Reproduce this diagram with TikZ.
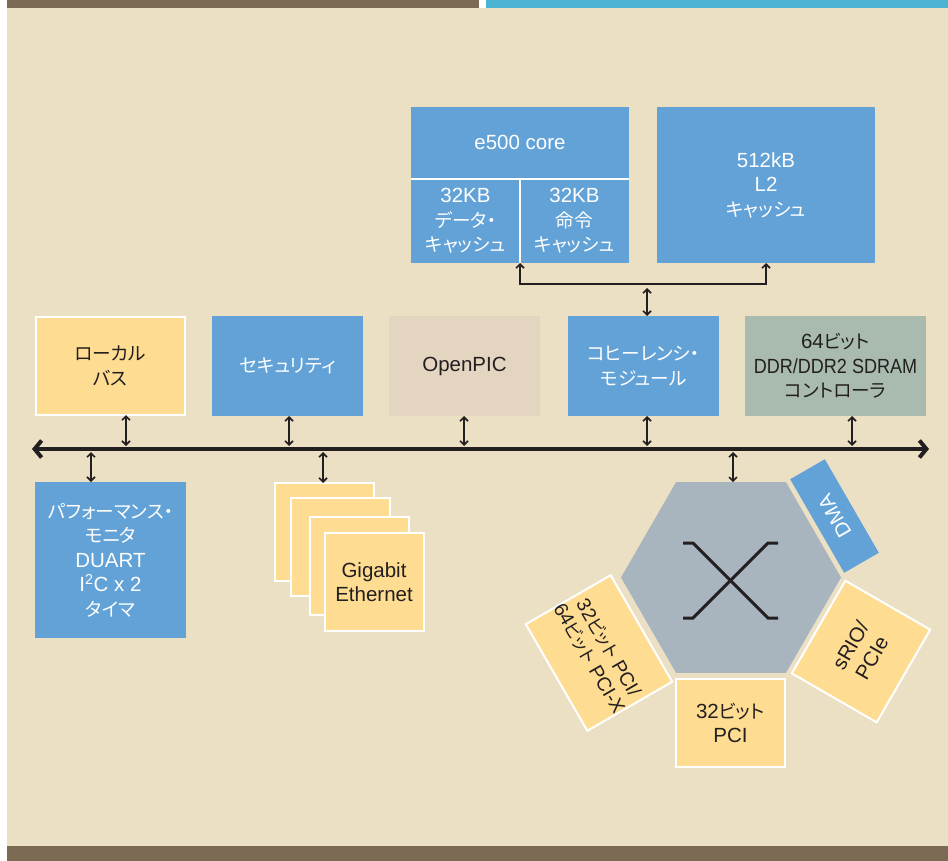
\documentclass[tikz,border=0pt]{standalone}
\usepackage{fontspec}
\setmainfont{Liberation Sans}
\newfontfamily\jp[Scale=0.91,RawFeature=+palt]{Noto Sans CJK JP}
\usetikzlibrary{shapes.geometric,arrows.meta}
\definecolor{bg}{HTML}{EBE0C4}
\definecolor{barbrown}{HTML}{7C6A55}
\definecolor{barblue}{HTML}{4DB3D4}
\definecolor{boxblue}{HTML}{62A2D7}
\definecolor{boxyellow}{HTML}{FEDD92}
\definecolor{boxpink}{HTML}{E4D5C1}
\definecolor{boxgreen}{HTML}{A9BBAF}
\definecolor{hexgray}{HTML}{A9B5BE}
\definecolor{ink}{HTML}{231F20}
\begin{document}
\begin{tikzpicture}[x=1pt,y=-1pt,
  every node/.style={inner sep=0pt,outer sep=0pt},
  txt/.style={font=\fontsize{20.5}{24.5}\selectfont, align=center, text=ink},
  wtxt/.style={txt, text=white},
  bluebox/.style={fill=boxblue, wtxt},
  yellowbox/.style={fill=boxyellow, draw=white, line width=2pt, txt},
  rowbox/.style={minimum width=151pt, minimum height=100pt},
  rowboxy/.style={minimum width=149pt, minimum height=98pt},
  gigbox/.style={yellowbox, minimum width=99pt, minimum height=98pt},
  rottxt/.style={font=\fontsize{19.5}{22}\selectfont},
  bus/.style={line width=4pt, draw=ink, {Straight Barb[length=7pt,width=17pt]}-{Straight Barb[length=7pt,width=17pt]}},
  dbl/.style={line width=1.6pt, draw=ink, {Straight Barb[length=4pt,width=8pt]}-{Straight Barb[length=4pt,width=8pt]}},
  xsym/.style={line width=3pt, draw=ink},
  divider/.style={draw=white, line width=1.6pt}
]
% page
\useasboundingbox (0,0) rectangle (948,861);
\fill[white] (0,0) rectangle (948,861);
\fill[bg] (7,8) rectangle (948,846);
\fill[barbrown] (7,0) rectangle (479,8);
\fill[barblue] (486,0) rectangle (948,8);
\fill[barbrown] (7,846) rectangle (948,861);

% core and L2
\node[fill=boxblue, minimum width=218pt, minimum height=156pt] (core) at (520,185) {};
\node[wtxt] (coretxt) at (520,142) {e500 core};
\draw[divider] (core.west |- 0,179) -- (core.east |- 0,179);
\draw[divider] (520,179) -- (core.south);
\node[wtxt] (dcache) at (465.5,221) {32KB\\{\jp データ・}\\{\jp キャッシュ}};
\node[wtxt] (icache) at (574.5,221) {32KB\\{\jp 命令}\\{\jp キャッシュ}};
\node[bluebox, minimum width=218pt, minimum height=156pt] (l2) at (766,185) {512kB\\L2\\{\jp キャッシュ}};

% row of units
\node[yellowbox, rowboxy] (local) at (110.5,366) {{\jp ローカル}\\{\jp バス}};
\node[bluebox, rowbox] (sec) at (287.5,366) {{\jp セキュリティ}};
\node[fill=boxpink, txt, rowbox] (pic) at (464.5,366) {OpenPIC};
\node[bluebox, rowbox] (coh) at (643.5,366) {{\jp コヒーレンシ・}\\{\jp モジュール}};
\node[fill=boxgreen, txt, minimum width=181pt, minimum height=100pt] (ddr) at (835.5,366) {64{\jp ビット}\\\scalebox{0.88}[1]{DDR/DDR2 SDRAM}\\{\jp コントローラ}};

% bus
\coordinate (busL) at (32,449);
\coordinate (busR) at (929,449);
\draw[bus] (busL) -- (busR);

% lower units
\node[bluebox, minimum width=151pt, minimum height=156pt] (perf) at (110.5,560) {{\jp パフォーマンス・}\\{\jp モニタ}\\DUART\\I\textsuperscript{2}C x 2\\{\jp タイマ}};
\node[gigbox] (gig1) at (324.5,532) {};
\node[gigbox] (gig2) at (340,547) {};
\node[gigbox] (gig3) at (359,565.5) {};
\node[gigbox] (gig4) at (374,582) {Gigabit\\Ethernet};

% switch fabric
\node[regular polygon, regular polygon sides=6, minimum size=220pt, fill=hexgray] (hex) at (731,577.5) {};
\draw[xsym] (683,543) -- (693,543) -- (768,618) -- (778,618);
\draw[xsym] (778,543) -- (768,543) -- (693,618) -- (683,618);
\node[bluebox, rotate=120, minimum width=108pt, minimum height=40pt] (dma) at (834.5,516) {DMA};
\node[yellowbox, rottxt, rotate=-60, minimum width=107pt, minimum height=98pt] (pcix) at (599,653) {32{\jp ビット} PCI/\\64{\jp ビット} PCI-X};
\node[yellowbox, rotate=60, minimum width=107pt, minimum height=98pt] (srio) at (861,651.5) {sRIO/\\PCIe};
\node[yellowbox, minimum width=109pt, minimum height=88pt] (pci) at (730.5,723) {32{\jp ビット}\\PCI};

% connectors: units above the bus
\coordinate (a1) at (126,446);
\coordinate (a2) at (289,446);
\coordinate (a3) at (464,446);
\coordinate (a4) at (647,446);
\coordinate (a5) at (852,446);
\draw[dbl] (a1 |- local.south) -- (a1);
\draw[dbl] (a2 |- sec.south) -- (a2);
\draw[dbl] (a3 |- pic.south) -- (a3);
\draw[dbl] (a4 |- coh.south) -- (a4);
\draw[dbl] (a5 |- ddr.south) -- (a5);

% connectors: units below the bus
\coordinate (b1) at (91,452);
\coordinate (b2) at (323,452);
\coordinate (b3) at (733,452);
\draw[dbl] (b1) -- (b1 |- perf.north);
\draw[dbl] (b2) -- (b2 |- gig1.north);
\draw[dbl] (b3) -- (b3 |- hex.north);

% coherency to caches
\coordinate (j) at (647,288);
\draw[dbl] (j) -- (j |- coh.north);
\draw[dbl] (core.south) -- ++(0,21) -| (l2.south);
\end{tikzpicture}
\end{document}
